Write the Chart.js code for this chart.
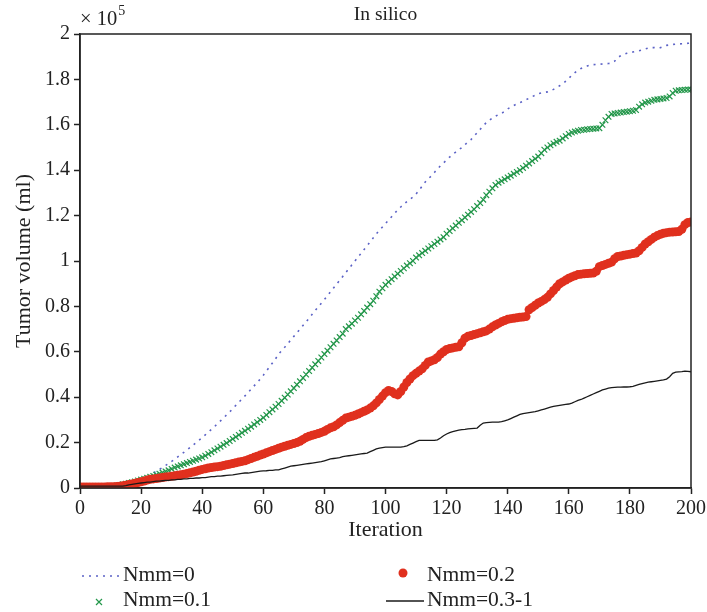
<!DOCTYPE html>
<html>
<head>
<meta charset="utf-8">
<script src="https://cdn.jsdelivr.net/npm/chart.js@4.4.1/dist/chart.umd.min.js"></script>
<style>
  body { margin: 0; background: #fff; }
</style>
</head>
<body>
<canvas id="myChart" width="707" height="612"></canvas>
<script>
// values in units of 10^5 ml, one per iteration (0..200)
const seriesLabels = ['Nmm=0', 'Nmm=0.1', 'Nmm=0.2', 'Nmm=0.3-1'];
const yTicks = [0, 0.2, 0.4, 0.6, 0.8, 1, 1.2, 1.4, 1.6, 1.8, 2];
const xTicks = [0, 20, 40, 60, 80, 100, 120, 140, 160, 180, 200];

const nmm0 = [
  0, 0, 0, 0, 0, 0, 0, 0, 0, 0.002, 0.003, 0.004,
  0.006, 0.008, 0.010, 0.013, 0.016, 0.019, 0.022, 0.026, 0.030,
  0.040, 0.050, 0.058, 0.066, 0.074, 0.082, 0.090, 0.099, 0.108, 0.117,
  0.127, 0.137, 0.147, 0.157, 0.167, 0.178, 0.189, 0.200, 0.211, 0.222,
  0.234, 0.246, 0.258, 0.270, 0.283, 0.296, 0.309, 0.322, 0.335, 0.350,
  0.364, 0.378, 0.392, 0.406, 0.420, 0.435, 0.450, 0.465, 0.480, 0.497,
  0.515, 0.533, 0.551, 0.569, 0.590, 0.605, 0.620, 0.636, 0.652, 0.668,
  0.684, 0.700, 0.716, 0.732, 0.748, 0.765, 0.782, 0.798, 0.814, 0.830,
  0.847, 0.864, 0.881, 0.898, 0.915, 0.932, 0.949, 0.966, 0.983, 1.000,
  1.017, 1.034, 1.051, 1.068, 1.085, 1.102, 1.120, 1.135, 1.150, 1.165,
  1.180, 1.195, 1.210, 1.225, 1.238, 1.250, 1.262, 1.272, 1.282, 1.295,
  1.312, 1.330, 1.348, 1.362, 1.375, 1.390, 1.405, 1.420, 1.432, 1.445,
  1.458, 1.470, 1.480, 1.490, 1.500, 1.512, 1.525, 1.535, 1.550, 1.565,
  1.580, 1.595, 1.610, 1.620, 1.630, 1.638, 1.645, 1.650, 1.660, 1.670,
  1.678, 1.685, 1.692, 1.698, 1.703, 1.710, 1.717, 1.724, 1.730, 1.737,
  1.740, 1.743, 1.745, 1.750, 1.756, 1.764, 1.772, 1.780, 1.792, 1.805,
  1.818, 1.830, 1.840, 1.848, 1.854, 1.859, 1.863, 1.865, 1.866, 1.867,
  1.868, 1.869, 1.870, 1.872, 1.880, 1.895, 1.905, 1.910, 1.915, 1.918,
  1.921, 1.924, 1.926, 1.930, 1.934, 1.938, 1.940, 1.940, 1.938, 1.940,
  1.945, 1.950, 1.952, 1.954, 1.955, 1.956, 1.957, 1.958, 1.959, 1.960
];

const nmm01 = [
  0, 0, 0, 0, 0, 0, 0.001, 0.002, 0.003, 0.005, 0.007,
  0.009, 0.011, 0.013, 0.016, 0.019, 0.022, 0.025, 0.029, 0.033, 0.037,
  0.041, 0.045, 0.049, 0.053, 0.058, 0.063, 0.068, 0.073, 0.078, 0.084,
  0.090, 0.095, 0.100, 0.105, 0.110, 0.115, 0.120, 0.125, 0.130, 0.135,
  0.142, 0.150, 0.158, 0.166, 0.174, 0.182, 0.190, 0.198, 0.207, 0.216,
  0.225, 0.234, 0.243, 0.252, 0.261, 0.270, 0.280, 0.290, 0.300, 0.310,
  0.322, 0.334, 0.346, 0.358, 0.370, 0.384, 0.398, 0.412, 0.426, 0.440,
  0.455, 0.470, 0.485, 0.500, 0.515, 0.530, 0.545, 0.560, 0.575, 0.590,
  0.605, 0.620, 0.635, 0.650, 0.665, 0.680, 0.700, 0.712, 0.724, 0.738,
  0.750, 0.765, 0.780, 0.795, 0.810, 0.825, 0.845, 0.865, 0.880, 0.895,
  0.908, 0.920, 0.932, 0.944, 0.956, 0.968, 0.980, 0.990, 1.000, 1.015,
  1.025, 1.035, 1.045, 1.055, 1.065, 1.075, 1.085, 1.095, 1.105, 1.120,
  1.132, 1.144, 1.156, 1.168, 1.180, 1.192, 1.204, 1.216, 1.228, 1.242,
  1.255, 1.270, 1.290, 1.305, 1.320, 1.335, 1.345, 1.352, 1.360, 1.368,
  1.376, 1.384, 1.392, 1.400, 1.410, 1.420, 1.430, 1.440, 1.450, 1.460,
  1.475, 1.490, 1.500, 1.510, 1.518, 1.525, 1.530, 1.540, 1.550, 1.560,
  1.566, 1.570, 1.574, 1.577, 1.578, 1.580, 1.582, 1.583, 1.584, 1.585,
  1.600, 1.620, 1.635, 1.648, 1.650, 1.652, 1.654, 1.656, 1.658, 1.660,
  1.662, 1.665, 1.680, 1.690, 1.698, 1.702, 1.706, 1.710, 1.712, 1.714,
  1.716, 1.718, 1.725, 1.740, 1.750, 1.752, 1.753, 1.754, 1.755, 1.755
];

const nmm02 = [
  0.004, 0.004, 0.004, 0.004, 0.004, 0.004, 0.004, 0.004, 0.004, 0.005, 0.005,
  0.006, 0.007, 0.008, 0.010, 0.012, 0.015, 0.018, 0.021, 0.024, 0.027,
  0.031, 0.035, 0.038, 0.040, 0.042, 0.044, 0.046, 0.048, 0.050, 0.052,
  0.054, 0.056, 0.058, 0.061, 0.064, 0.067, 0.070, 0.074, 0.078, 0.082,
  0.085, 0.088, 0.090, 0.092, 0.094, 0.096, 0.099, 0.102, 0.105, 0.108,
  0.111, 0.114, 0.117, 0.120, 0.125, 0.130, 0.135, 0.140, 0.145, 0.150,
  0.155, 0.160, 0.165, 0.170, 0.175, 0.180, 0.184, 0.188, 0.192, 0.196,
  0.200, 0.206, 0.214, 0.222, 0.228, 0.232, 0.236, 0.240, 0.245, 0.250,
  0.258, 0.265, 0.270, 0.278, 0.288, 0.298, 0.308, 0.312, 0.316, 0.320,
  0.326, 0.332, 0.338, 0.344, 0.352, 0.362, 0.375, 0.390, 0.405, 0.420,
  0.430, 0.425, 0.415, 0.410, 0.425, 0.445, 0.465, 0.480, 0.495, 0.505,
  0.515, 0.525, 0.540, 0.555, 0.560, 0.565, 0.575, 0.590, 0.600, 0.610,
  0.614, 0.617, 0.620, 0.622, 0.640, 0.660, 0.668, 0.672, 0.676, 0.680,
  0.684, 0.688, 0.692, 0.700, 0.710, 0.718, 0.725, 0.732, 0.738, 0.743,
  0.746, 0.748, 0.750, 0.752, 0.753, 0.755, 0.785, 0.795, 0.805, 0.815,
  0.822, 0.830, 0.840, 0.855, 0.870, 0.885, 0.900, 0.908, 0.916, 0.924,
  0.930, 0.935, 0.940, 0.942, 0.944, 0.945, 0.946, 0.947, 0.955, 0.975,
  0.980, 0.985, 0.990, 0.995, 1.010, 1.020, 1.022, 1.025, 1.028, 1.030,
  1.033, 1.035, 1.045, 1.060, 1.075, 1.085, 1.095, 1.105, 1.112, 1.118,
  1.122, 1.125, 1.127, 1.128, 1.129, 1.130, 1.140, 1.160, 1.170, 1.172
];

const nmm03 = [
  0.008, 0.008, 0.008, 0.008, 0.008, 0.008, 0.008, 0.008, 0.008, 0.008, 0.008,
  0.008, 0.008, 0.008, 0.008, 0.010, 0.014, 0.016, 0.018, 0.020, 0.022,
  0.024, 0.026, 0.026, 0.028, 0.030, 0.030, 0.032, 0.034, 0.034, 0.036,
  0.036, 0.038, 0.038, 0.040, 0.040, 0.042, 0.042, 0.044, 0.044, 0.046,
  0.046, 0.048, 0.050, 0.050, 0.052, 0.052, 0.054, 0.056, 0.057, 0.058,
  0.060, 0.062, 0.064, 0.066, 0.066, 0.068, 0.070, 0.072, 0.074, 0.075,
  0.076, 0.078, 0.078, 0.080, 0.080, 0.084, 0.088, 0.092, 0.096, 0.098,
  0.100, 0.102, 0.104, 0.106, 0.108, 0.110, 0.112, 0.114, 0.116, 0.120,
  0.124, 0.128, 0.130, 0.132, 0.134, 0.138, 0.140, 0.142, 0.144, 0.146,
  0.148, 0.150, 0.152, 0.154, 0.160, 0.166, 0.172, 0.176, 0.178, 0.180,
  0.180, 0.180, 0.180, 0.180, 0.180, 0.182, 0.186, 0.192, 0.198, 0.204,
  0.210, 0.210, 0.210, 0.210, 0.210, 0.210, 0.212, 0.220, 0.230, 0.238,
  0.244, 0.248, 0.252, 0.255, 0.257, 0.258, 0.260, 0.262, 0.263, 0.264,
  0.276, 0.286, 0.288, 0.289, 0.290, 0.290, 0.290, 0.292, 0.296, 0.300,
  0.306, 0.312, 0.318, 0.324, 0.328, 0.330, 0.332, 0.334, 0.336, 0.340,
  0.344, 0.348, 0.352, 0.356, 0.360, 0.362, 0.364, 0.366, 0.368, 0.370,
  0.374, 0.380, 0.386, 0.390, 0.396, 0.402, 0.408, 0.414, 0.420, 0.426,
  0.432, 0.436, 0.440, 0.442, 0.443, 0.444, 0.444, 0.445, 0.445, 0.446,
  0.448, 0.452, 0.456, 0.460, 0.463, 0.466, 0.468, 0.470, 0.472, 0.474,
  0.476, 0.480, 0.490, 0.505, 0.510, 0.512, 0.513, 0.515, 0.514, 0.512
];

// x axis positions are just the iteration number of each value
function toPoints(values) {
  return values.map((v, i) => ({ x: i, y: v }));
}

const serif = "'Liberation Serif', 'DejaVu Serif', serif";
const blue = '#5b62c6';
const green = '#23974a';
const red = '#e0301e';
const black = '#1a1a1a';

// title, "x 10^5", frame and the two-column legend
const extras = {
  id: 'extras',
  afterDraw(chart) {
    const c = chart.ctx;
    const a = chart.chartArea;
    c.save();
    c.strokeStyle = '#222';
    c.lineWidth = 1.5;
    c.strokeRect(a.left, a.top, a.right - a.left, a.bottom - a.top);

    c.fillStyle = '#222';
    c.textBaseline = 'alphabetic';
    c.textAlign = 'center';
    c.font = '19.5px ' + serif;
    c.fillText('In silico', (a.left + a.right) / 2, 20);

    c.textAlign = 'left';
    c.font = '20.5px ' + serif;
    c.fillText('\u00d7 10', a.left, 25);
    const w = c.measureText('\u00d7 10').width;
    c.font = '14px ' + serif;
    c.fillText('5', a.left + w + 1, 15);

    // legend
    const ds = chart.data.datasets;
    c.font = '21.5px ' + serif;
    c.textBaseline = 'middle';
    const items = [
      { i: 0, x: 82, y: 575 },
      { i: 2, x: 386, y: 575 },
      { i: 1, x: 82, y: 600 },
      { i: 3, x: 386, y: 600 }
    ];
    items.forEach(it => {
      const d = ds[it.i];
      c.save();
      if (d.pointRadius > 0) {
        const cx = it.x + 17;
        if (d.pointStyle === 'crossRot') {
          c.strokeStyle = d.borderColor;
          c.lineWidth = 1.2;
          c.beginPath();
          c.moveTo(cx - 3, it.y - 1); c.lineTo(cx + 3, it.y + 5);
          c.moveTo(cx + 3, it.y - 1); c.lineTo(cx - 3, it.y + 5);
          c.stroke();
        } else {
          c.fillStyle = d.backgroundColor;
          c.beginPath();
          c.arc(cx, it.y - 2, 4.5, 0, Math.PI * 2);
          c.fill();
        }
      } else {
        c.strokeStyle = d.borderColor;
        c.lineWidth = d.borderWidth;
        c.setLineDash(d.borderDash || []);
        c.beginPath();
        c.moveTo(it.x, it.y + 1);
        c.lineTo(it.x + 38, it.y + 1);
        c.stroke();
      }
      c.restore();
      c.fillStyle = '#222';
      c.fillText(d.label, it.x + 41, it.y);
    });
    c.restore();
  }
};

const ctx = document.getElementById('myChart').getContext('2d');
const myChart = new Chart(ctx, {
  type: 'line',
  data: {
    datasets: [
      {
        label: seriesLabels[0],
        data: toPoints(nmm0),
        borderColor: blue,
        borderWidth: 1.6,
        borderDash: [2, 5],
        pointRadius: 0,
        fill: false,
        order: 4
      },
      {
        label: seriesLabels[1],
        data: toPoints(nmm01),
        showLine: false,
        pointStyle: 'crossRot',
        pointRadius: 4,
        pointBorderWidth: 1.2,
        borderColor: green,
        backgroundColor: green,
        order: 3
      },
      {
        label: seriesLabels[2],
        data: toPoints(nmm02),
        showLine: false,
        pointStyle: 'circle',
        pointRadius: 4.5,
        pointBorderWidth: 0,
        borderColor: red,
        backgroundColor: red,
        order: 2
      },
      {
        label: seriesLabels[3],
        data: toPoints(nmm03),
        borderColor: black,
        borderWidth: 1.3,
        pointRadius: 0,
        fill: false,
        order: 1
      }
    ]
  },
  options: {
    responsive: false,
    animation: false,
    layout: { padding: { left: 10, right: 16, top: 34, bottom: 66 } },
    plugins: {
      legend: { display: false },
      tooltip: { enabled: false }
    },
    scales: {
      x: {
        type: 'linear',
        min: 0,
        max: 200,
        afterFit(axis) {
          axis.height = 58;
          axis.paddingLeft = 0;
          axis.paddingRight = 0;
        },
        afterBuildTicks(axis) { axis.ticks = xTicks.map(v => ({ value: v })); },
        ticks: {
          color: '#222',
          font: { family: serif, size: 20 },
          padding: 3,
          maxRotation: 0
        },
        grid: { drawOnChartArea: false, drawTicks: true, tickLength: 6, color: '#222', tickWidth: 1.5 },
        border: { color: '#222', width: 1.5 },
        title: {
          display: true,
          text: 'Iteration',
          color: '#222',
          font: { family: serif, size: 22 },
          padding: { top: 0, bottom: 3 }
        }
      },
      y: {
        min: 0,
        max: 2,
        afterFit(axis) {
          axis.width = 70;
          axis.paddingTop = 0;
          axis.paddingBottom = 0;
        },
        afterBuildTicks(axis) { axis.ticks = yTicks.map(v => ({ value: v })); },
        ticks: {
          color: '#222',
          font: { family: serif, size: 20 },
          padding: 4,
          callback: v => String(Number(v.toFixed(1)))
        },
        grid: { drawOnChartArea: false, drawTicks: true, tickLength: 6, color: '#222', tickWidth: 1.5 },
        border: { color: '#222', width: 1.5 },
        title: {
          display: true,
          text: 'Tumor volume (ml)',
          color: '#222',
          font: { family: serif, size: 22 },
          padding: { top: 1, bottom: 0 }
        }
      }
    }
  },
  plugins: [extras]
});
</script>
</body>
</html>
